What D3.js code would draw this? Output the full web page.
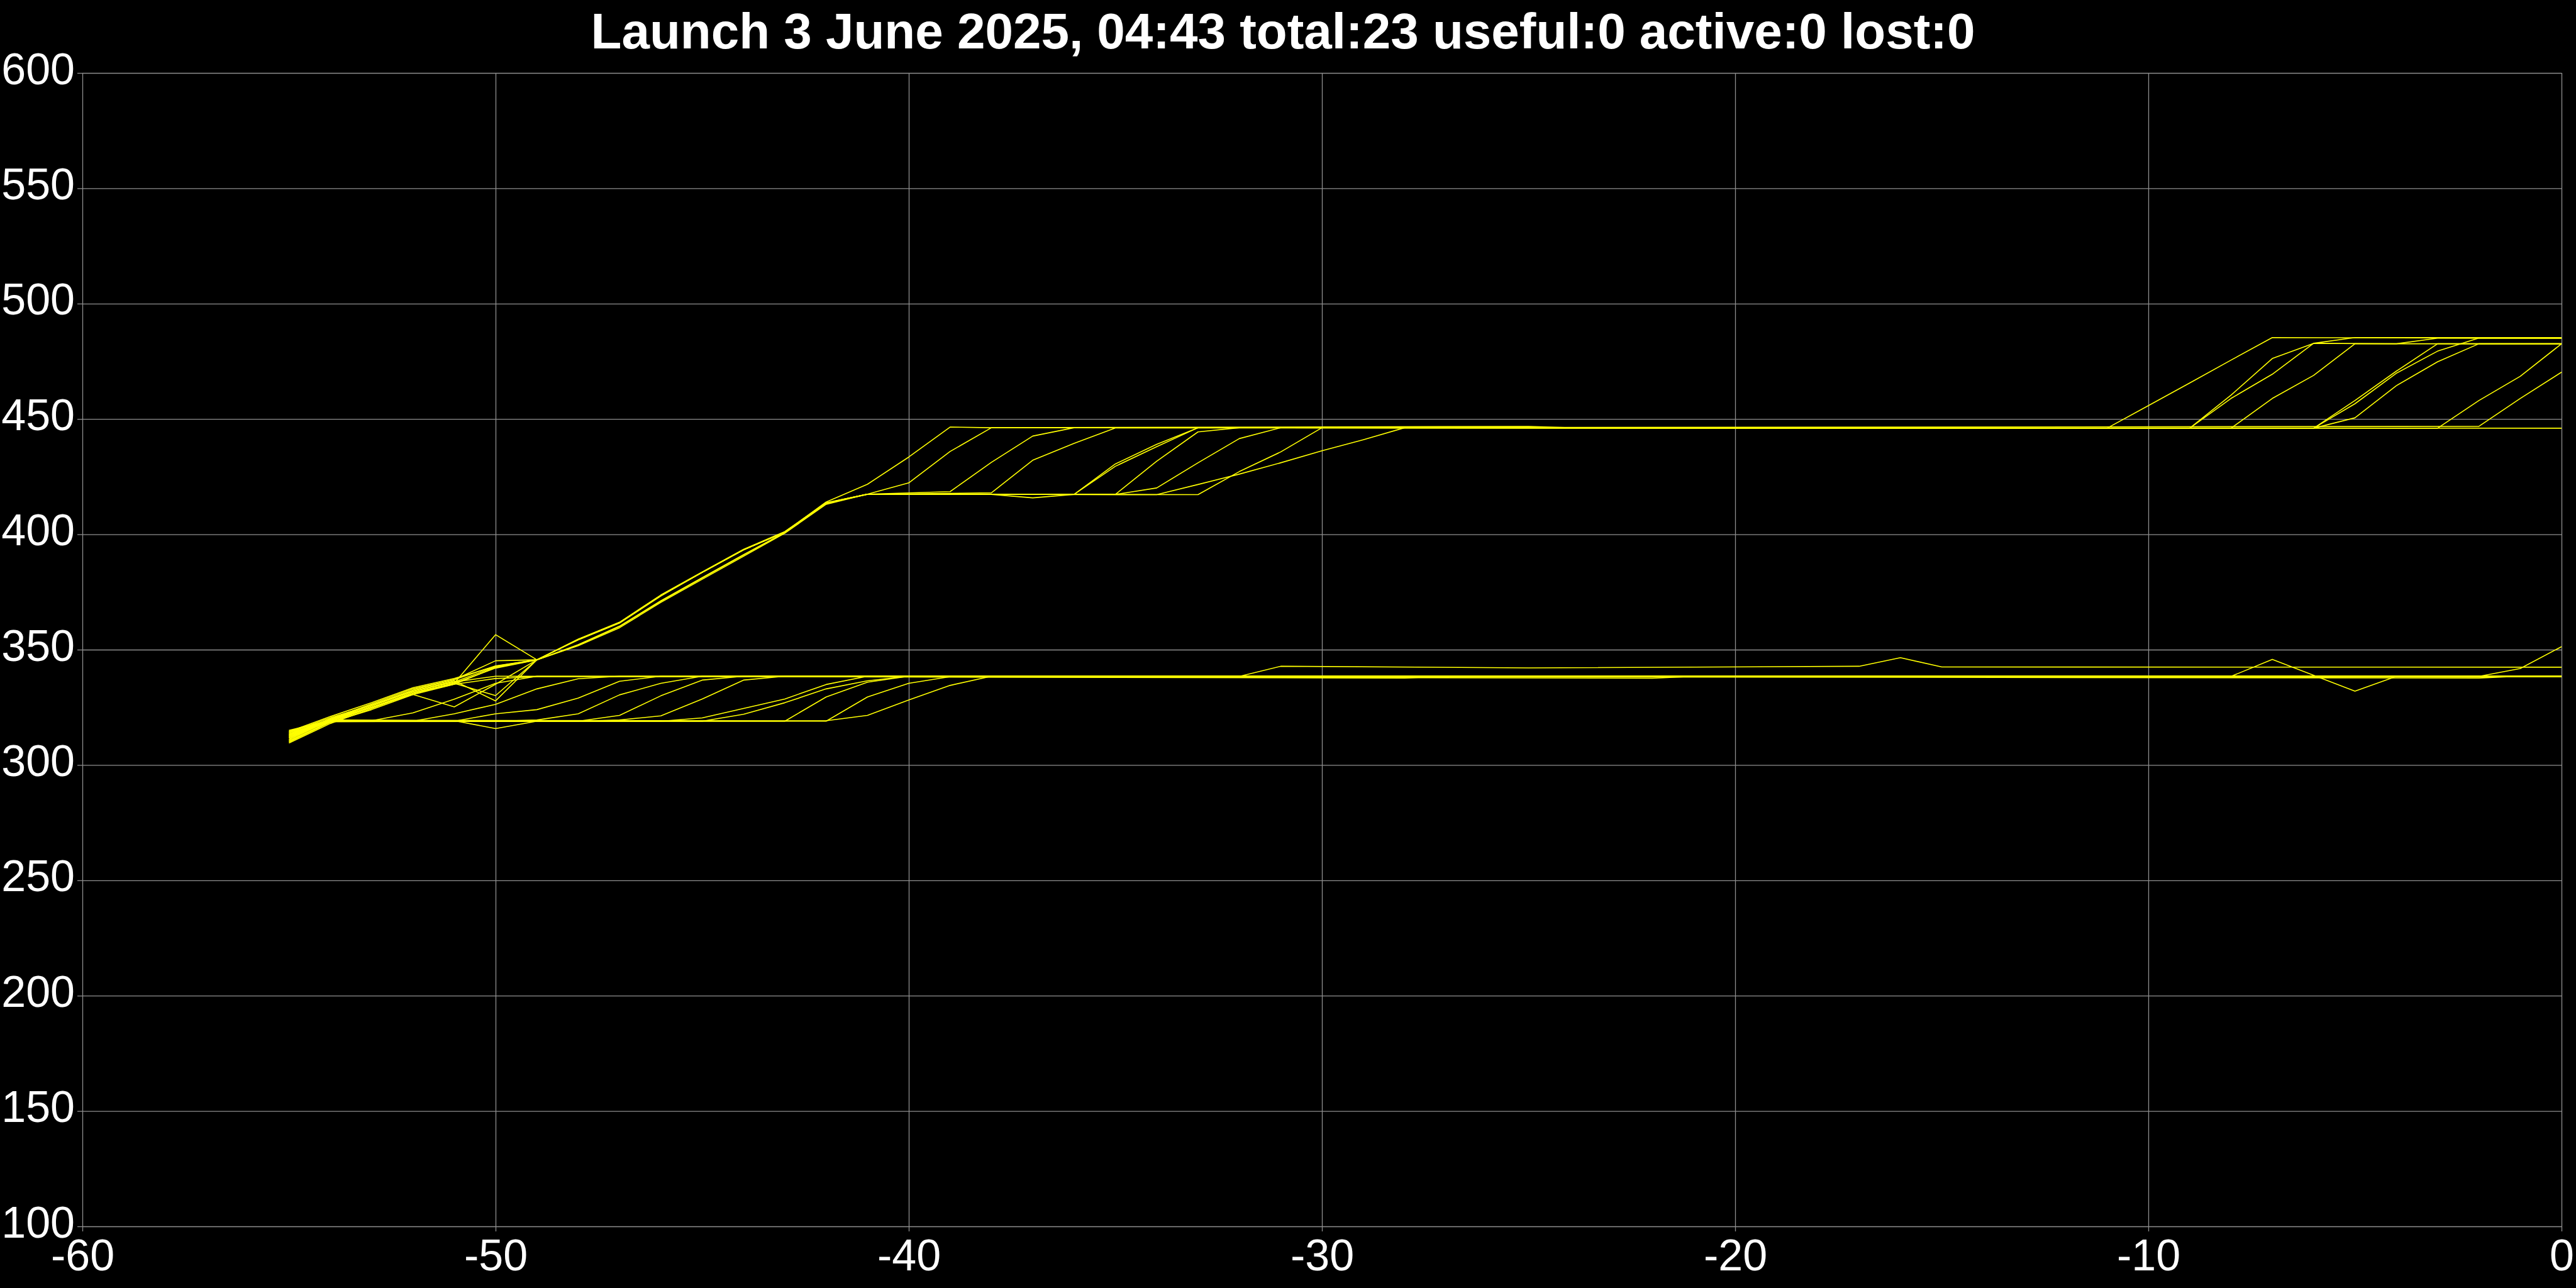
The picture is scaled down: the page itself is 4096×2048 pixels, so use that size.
<!DOCTYPE html>
<html><head><meta charset="utf-8">
<script src="https://cdn.jsdelivr.net/npm/d3@7"></script>
<style>html,body{margin:0;padding:0;background:#000;} svg{display:block;}</style>
</head><body>
<svg id="chart" width="4096" height="2048"></svg>
<script>
const titleText = "Launch 3 June 2025, 04:43 total:23 useful:0 active:0 lost:0";
const xTicks = [-60, -50, -40, -30, -20, -10, 0];
const yTicks = [100, 150, 200, 250, 300, 350, 400, 450, 500, 550, 600];

// [day relative to now, altitude km]
const sat01 = [[-55,310.5],[-54,318.5],[-53,325],[-52,331],[-51,335.5],[-50,356.5],[-49,345.6],[-48,354.4],[-47,361.7],[-46,373.5],[-45,383.5],[-44,393.3],[-43,401],[-42,414],[-41,421.7],[-40,433.5],[-39,446.5],[-38,446.2],[-25,446.8],[-24,446.2],[-11,446],[-10,455.8],[-9,465.6],[-8,475.5],[-7,485.3],[0,485]];
const sat02 = [[-55,312],[-54,319],[-53,325.5],[-52,332],[-51,336],[-50,342.6],[-49,345.6],[-48,354.2],[-47,361.5],[-46,373.2],[-45,383.5],[-44,393.3],[-43,401],[-42,413.5],[-41,417.4],[-40,422.3],[-39,435.9],[-38,446.2],[-9,446],[-8,460.3],[-7,476.2],[-6,482.8],[-5,485.3],[0,485.3]];
const sat03 = [[-55,313],[-54,320],[-53,325],[-52,331.5],[-51,335.4],[-50,330.1],[-49,345.6],[-48,351.7],[-47,359.5],[-46,370.5],[-45,380.5],[-44,390.5],[-43,400.5],[-42,413],[-41,417.4],[-39,418.5],[-38,431.2],[-37,442.6],[-36,446.2],[-9,446],[-8,458.9],[-7,469.4],[-6,482.8],[-4,482.6],[-3,485],[0,485]];
const sat04 = [[-55,314],[-54,320.5],[-53,326],[-52,332],[-51,336.5],[-50,327.8],[-49,345.6],[-48,352],[-47,360],[-46,371],[-45,381],[-44,391],[-43,400.8],[-42,413.5],[-41,417.3],[-38,418],[-37,432.1],[-36,439.4],[-35,446.1],[-8,446],[-7,458.9],[-6,468.9],[-5,482.6],[0,482.6]];
const sat05 = [[-55,311],[-54,319.5],[-53,326],[-52,332.5],[-51,337],[-50,345.2],[-49,345.6],[-48,354.4],[-47,361.7],[-46,373.5],[-45,383.5],[-44,393.3],[-43,401],[-42,413.5],[-41,417.4],[-38,417.3],[-37,415.8],[-36,417.3],[-35,430.5],[-34,439],[-33,446.2],[-6,446],[-5,458],[-4,470.7],[-3,482.6],[0,482.6]];
const sat06 = [[-55,309.5],[-54,318],[-53,324.5],[-52,331],[-51,335.5],[-50,342],[-49,345.6],[-48,354.6],[-47,361.9],[-46,373.7],[-45,383.7],[-44,393.5],[-43,401.2],[-42,413.7],[-41,417.4],[-36,417.3],[-35,429.5],[-34,438],[-33,446.2],[-6,446],[-5,456.6],[-4,469.8],[-3,479.4],[-2,485.1],[0,485]];
const sat07 = [[-55,312.5],[-54,319],[-53,325],[-52,330.6],[-51,325.2],[-50,335],[-49,345.6],[-48,352.2],[-47,360.2],[-46,371.2],[-45,381.2],[-44,391.2],[-43,400.8],[-42,413.3],[-41,417.4],[-35,417.3],[-34,431.7],[-33,444.4],[-32,446.2],[-6,446],[-5,450.5],[-4,464.4],[-3,474.8],[-2,482.6],[0,482.6]];
const sat08 = [[-55,313.5],[-54,320],[-53,326.5],[-52,333],[-51,337],[-50,343],[-49,345.6],[-48,354.4],[-47,361.7],[-46,373.5],[-45,383.5],[-44,393.3],[-43,401],[-42,413.5],[-41,417.4],[-35,417.3],[-34,420.1],[-33,431],[-32,441.5],[-31,446.2],[-3,446],[-2,458],[-1,468.5],[0,482.6]];
const sat09 = [[-55,310],[-54,318.5],[-53,324],[-52,330.5],[-51,335],[-50,342.3],[-49,345.6],[-48,354.4],[-47,361.7],[-46,373.5],[-45,383.5],[-44,393.3],[-43,401],[-42,413.5],[-41,417.4],[-33,417.2],[-32,427.2],[-31,435.7],[-30,446.2],[-2,446.8],[-1,458.9],[0,470.3]];
const sat10 = [[-55,314.5],[-54,321],[-53,327],[-52,333.5],[-51,337.5],[-50,342.8],[-49,345.6],[-48,354.4],[-47,361.7],[-46,373.5],[-45,383.5],[-44,393.3],[-43,401],[-42,413.5],[-41,417.4],[-34,417.2],[-33,421.6],[-32,426.1],[-31,431],[-30,436.2],[-29,441],[-28,446.2],[0,446]];
const sat11 = [[-55,312],[-54,320],[-53,326],[-52,332],[-51,336],[-50,338.5],[0,338.5]];
const sat12 = [[-55,311.5],[-54,319.5],[-53,325],[-52,331],[-51,335],[-50,337.5],[-49,338.3],[-32,338.4],[-31,342.8],[-25,342.1],[-17,342.8],[-16,346.5],[-15,342.5],[0,342.4]];
const sat13 = [[-55,313],[-54,319],[-53,319.2],[-52,322.6],[-51,328.5],[-50,335.4],[-49,338.5],[-28,337.7],[-27,338.5],[0,338.5]];
const sat14 = [[-55,314],[-54,319],[-52,319],[-51,322.2],[-50,326.3],[-49,333],[-48,337.4],[-47,338.5],[-8,338.4],[-7,345.8],[-5,332],[-4,338.4],[0,338.4]];
const sat15 = [[-55,312.5],[-54,319.2],[-51,319],[-50,322.2],[-49,324],[-48,329],[-47,336.3],[-46,338.5],[-22,337.6],[-21,338.4],[0,338.3]];
const sat16 = [[-55,310.5],[-54,318.8],[-50,319],[-49,319.5],[-48,322.2],[-47,330.4],[-46,335.4],[-45,338.5],[0,338.6]];
const sat17 = [[-55,313.5],[-54,319],[-48,319],[-47,321.5],[-46,330],[-45,336.8],[-44,338.5],[-2,338.4],[-1,341.8],[0,351.3]];
const sat18 = [[-55,311],[-54,319.3],[-48,319],[-47,319.5],[-46,321.3],[-45,328.6],[-44,336.8],[-43,338.5],[0,338.4]];
const sat19 = [[-55,314.5],[-54,319.5],[-51,319.2],[-50,315.8],[-49,319],[-46,319],[-45,320.4],[-44,324.5],[-43,328.6],[-42,334.9],[-41,338.5],[0,338.5]];
const sat20 = [[-55,312],[-54,319],[-43,319],[-42,329.5],[-41,335.9],[-40,338.5],[0,338.5]];
const sat21 = [[-55,313],[-54,319.2],[-45,319],[-44,322],[-43,327],[-42,333],[-41,336.5],[-40,338.5],[-2,337.7],[-1,338.5],[0,338.5]];
const sat22 = [[-55,310],[-54,318.8],[-42,319],[-41,329.5],[-40,335.4],[-39,338.3],[0,338.6]];
const sat23 = [[-55,315],[-54,319.4],[-42,319.2],[-41,321.5],[-40,328.2],[-39,334.5],[-38,338.5],[0,338.2]];

const satellites = [sat01,sat02,sat03,sat04,sat05,sat06,sat07,sat08,sat09,sat10,sat11,sat12,sat13,sat14,sat15,sat16,sat17,sat18,sat19,sat20,sat21,sat22,sat23];

(function () {
const svg = d3.select("#chart");
const FONT = "'Liberation Sans', Arial, sans-serif";
svg.append("rect").attr("width", 4096).attr("height", 2048).attr("fill", "#000");

const pLeft = 131, pRight = 4073, pTop = 116, pBottom = 1950;
const x = d3.scaleLinear().domain([-60, 0]).range([pLeft, pRight]);
const y = d3.scaleLinear().domain([100, 600]).range([pBottom, pTop]);

const gridColor = "#8f8f8f";
const fmt = d => String(d);

// horizontal grid + y ticks/labels
const yAxis = d3.axisLeft(y).tickValues(yTicks).tickSize(8).tickSizeOuter(0).tickFormat(fmt);
const gy = svg.append("g").attr("transform", `translate(${pLeft},0)`).call(yAxis);
gy.select(".domain").remove();
gy.selectAll(".tick line").attr("stroke", gridColor).attr("stroke-width", 1.3);
gy.selectAll(".tick").append("line").attr("x1", 0).attr("x2", pRight - pLeft).attr("stroke", gridColor).attr("stroke-width", 1.3);
gy.selectAll(".tick text").attr("fill", "#fff").attr("font-family", FONT).attr("font-size", 70)
  .attr("x", -12).attr("dy", "17px").attr("text-anchor", "end");

// vertical grid + x ticks/labels
const xAxis = d3.axisBottom(x).tickValues(xTicks).tickSize(8).tickSizeOuter(0).tickFormat(fmt);
const gx = svg.append("g").attr("transform", `translate(0,${pBottom})`).call(xAxis);
gx.select(".domain").remove();
gx.selectAll(".tick line").attr("stroke", gridColor).attr("stroke-width", 1.3);
gx.selectAll(".tick").append("line").attr("y1", 0).attr("y2", pTop - pBottom).attr("stroke", gridColor).attr("stroke-width", 1.3);
gx.selectAll(".tick text").attr("fill", "#fff").attr("font-family", FONT).attr("font-size", 70)
  .attr("y", 70).attr("dy", 0).attr("text-anchor", "middle");

// series
const line = d3.line().x(d => x(d[0])).y(d => y(d[1]));
svg.append("g").selectAll("path").data(satellites).join("path")
  .attr("d", line).attr("fill", "none").attr("stroke", "#ffff00")
  .attr("stroke-width", 1.6).attr("stroke-linejoin", "round");

// title
svg.append("text").attr("x", 2040).attr("y", 77).attr("text-anchor", "middle")
  .attr("fill", "#fff").attr("font-family", FONT).attr("font-weight", "bold").attr("font-size", 80)
  .text(titleText);
})();
</script>
</body></html>
